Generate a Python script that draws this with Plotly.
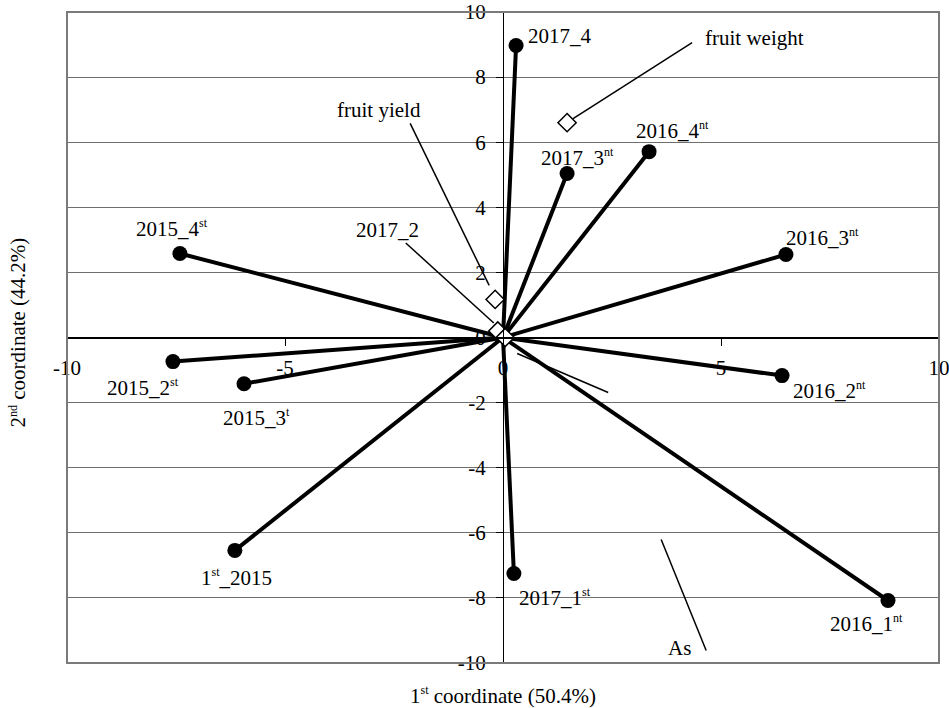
import plotly.graph_objects as go

SUP = '<sup><span style="font-size:12px">{}</span></sup>'

# Sample scores (biplot points joined to the origin)
sample_labels = ["2015_4" + SUP.format("st"), "2015_2" + SUP.format("st"), "2015_3" + SUP.format("t"),
                 "1" + SUP.format("st") + "_2015",
                 "2016_1" + SUP.format("nt"), "2016_2" + SUP.format("nt"), "2016_3" + SUP.format("nt"),
                 "2016_4" + SUP.format("nt"),
                 "2017_1" + SUP.format("st"), "2017_3" + SUP.format("nt"), "2017_4"]
coord1 = [-7.41, -7.57, -5.94, -6.15, 8.83, 6.40, 6.49, 3.35, 0.25, 1.47, 0.30]
coord2 = [2.58, -0.74, -1.42, -6.54, -8.08, -1.17, 2.55, 5.71, -7.25, 5.04, 8.97]

# Variables / supplementary points (open diamonds)
var_labels = ["fruit weight", "fruit yield", "2017_2", "As"]
var1 = [1.47, -0.18, -0.12, 0.05]
var2 = [6.60, 1.17, 0.20, 0.00]

# Axis ticks
x_ticks = [-10, -5, 0, 5, 10]
x_ticktext = ["-10", "-5", "0", "5", "10"]
y_ticks = [-10, -8, -6, -4, -2, 0, 2, 4, 6, 8, 10]
y_ticktext = ["-10", "-8", "-6", "-4", "-2", "0", "2", "4", "6", "8", "10"]

# ---- layout constants ----
W, H = 949, 708
ML, MR, MT, MB = 67, 10, 12, 45
XR, YR = (-10, 10), (-10, 10)
PX = (W - ML - MR) / (XR[1] - XR[0])   # pixels per unit along x
PY = (H - MT - MB) / (YR[1] - YR[0])   # pixels per unit along y
FONT = "Liberation Serif"
FS = 21
TXT = dict(family=FONT, size=FS, color="black")

# label offsets (pixels, screen dx, dy) for the sample labels
sample_label_off = [(-8, -25), (-30, 26), (12, 34), (2, 27), (-21, 23), (47, 15),
                    (37, -17), (23, -21), (41, 24), (10, -16), (44, -10)]
# label offsets and leader segments for the variables (pixels from the marker)
var_label_off = [(187, -85), (-116, -189), (-110, -101), (174, 310)]
var_leaders = [
    [((6, -4), (125, -80))],
    [((-6, -14), (-85, -176))],
    [((-4, -8), (-92, -88))],
    [((12, 16), (103, 55)), ((156, 202), (201, 313))],
]

fig = go.Figure()

# spokes from the origin to every sample point
lx, ly = [], []
for a, b in zip(coord1, coord2):
    lx += [0, a, None]
    ly += [0, b, None]
fig.add_trace(go.Scatter(x=lx, y=ly, mode="lines",
                         line=dict(color="black", width=4), hoverinfo="skip"))

fig.add_trace(go.Scatter(x=coord1, y=coord2, mode="markers",
                         marker=dict(color="black", size=15, symbol="circle"),
                         text=sample_labels, hoverinfo="text"))

fig.add_trace(go.Scatter(x=var1, y=var2, mode="markers",
                         marker=dict(color="white", size=14, symbol="diamond",
                                     line=dict(color="black", width=1.5)),
                         text=var_labels, hoverinfo="text"))

annotations = []
for lab, a, b, (dx, dy) in zip(sample_labels, coord1, coord2, sample_label_off):
    annotations.append(dict(x=a, y=b, xref="x", yref="y", text=lab, showarrow=False,
                            xshift=dx, yshift=-dy, font=TXT))

shapes = []
for lab, a, b, (dx, dy), segs in zip(var_labels, var1, var2, var_label_off, var_leaders):
    annotations.append(dict(x=a, y=b, xref="x", yref="y", text=lab, showarrow=False,
                            xshift=dx, yshift=-dy, font=TXT))
    for (sx, sy), (ex, ey) in segs:
        shapes.append(dict(type="line", xref="x", yref="y",
                           x0=a + sx / PX, y0=b - sy / PY, x1=a + ex / PX, y1=b - ey / PY,
                           line=dict(color="black", width=1.5)))

# axis titles
annotations.append(dict(x=0.5, y=0, xref="paper", yref="paper", yanchor="middle",
                        text="1" + SUP.format("st") + " coordinate (50.4%)", showarrow=False,
                        yshift=-32, font=TXT))
annotations.append(dict(x=0, y=0.5, xref="paper", yref="paper", xanchor="center",
                        text="2" + SUP.format("nd") + " coordinate (44.2%)", showarrow=False,
                        textangle=-90, xshift=-49, yshift=5, font=TXT))

# plot frame
shapes.append(dict(type="rect", xref="paper", yref="paper", x0=0, y0=0, x1=1, y1=1,
                   line=dict(color="#7a7a7a", width=2), layer="above"))

fig.update_layout(
    width=W, height=H,
    margin=dict(l=ML, r=MR, t=MT, b=MB, autoexpand=False),
    paper_bgcolor="white", plot_bgcolor="white",
    showlegend=False,
    font=TXT,
    annotations=annotations,
    shapes=shapes,
    xaxis=dict(range=list(XR), tickvals=x_ticks, ticktext=x_ticktext, automargin=False,
               anchor="free", position=0.5, showline=True, linecolor="black", linewidth=1.5,
               ticks="outside", ticklen=8, tickcolor="black", tickwidth=1,
               ticklabeloverflow="allow", ticklabelstandoff=4,
               showgrid=False, zeroline=False, tickfont=TXT),
    yaxis=dict(range=list(YR), tickvals=y_ticks, ticktext=y_ticktext, automargin=False,
               anchor="free", position=0.5, showline=True, linecolor="black", linewidth=1,
               ticks="outside", ticklen=7, tickcolor="black", tickwidth=1,
               ticklabeloverflow="allow", ticklabelstandoff=6,
               showgrid=True, gridcolor="#6e6e6e", gridwidth=1.2,
               zeroline=False, tickfont=TXT),
)

fig.write_html("out.html")
